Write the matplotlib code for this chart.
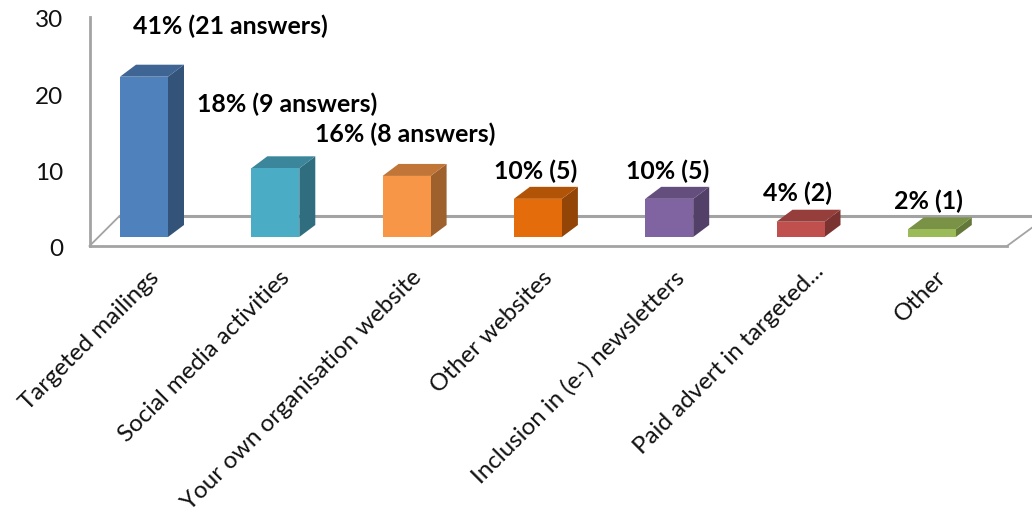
import matplotlib
matplotlib.use("Agg")
import matplotlib.pyplot as plt
from matplotlib.patches import Polygon
from matplotlib.transforms import ScaledTranslation
from matplotlib.colors import to_rgb

categories = ["Targeted mailings", "Social media activities", "Your own organisation website",
              "Other websites", "Inclusion in (e-) newsletters", "Paid advert in targeted...", "Other"]
answers = [21, 9, 8, 5, 5, 2, 1]
value_labels = ["41% (21 answers)", "18% (9 answers)", "16% (8 answers)",
                "10% (5)", "10% (5)", "4% (2)", "2% (1)"]
colors = ["#4F81BD", "#4BACC6", "#F79646", "#E46C0A", "#8064A2", "#C0504D", "#9BBB59"]
y_ticks = [0, 10, 20, 30]

# label offsets from bar top centre, in px (x right, y up)
label_dx = [86, 12, -1, -2, -2, -3, -3]
label_dy = [50, 64, 42, 28, 28, 28, 28]
# nudges of the category labels, in px
tick_dx = [4, 4, 4, 4, 4, 12, 4]
tick_dy = [-21, -21, -21, -21, -21, -14, -21]

W, H, DPI = 1032, 515, 100
plt.rcParams["font.family"] = ["Lato", "DejaVu Sans"]
fig = plt.figure(figsize=(W / DPI, H / DPI), dpi=DPI)
L, R, T, B = 89.5, 1007, 17, 246
ax = fig.add_axes([L / W, 1 - B / H, (R - L) / W, (B - T) / H])
step = 131.3
centre0 = 144
ax.set_xlim((L - centre0) / step, (R - centre0) / step)
ax.set_ylim(0, 30)
ux, uy = 1 / step, 30 / (B - T)  # data units per pixel

def px(dx, dy):
    return ScaledTranslation(dx / DPI, dy / DPI, fig.dpi_scale_trans)

GRAY = "#A3A3A3"
for s in ("top", "right"):
    ax.spines[s].set_visible(False)
for s in ("left", "bottom"):
    ax.spines[s].set_color(GRAY)
    ax.spines[s].set_linewidth(2)

# back wall base line and floor diagonals
xl0, xl1 = ax.get_xlim()
wall_y = 30 * uy
ax.plot([xl0 + 30 * ux, xl1 + 30 * ux], [wall_y, wall_y], color=GRAY, lw=2.2, clip_on=False, zorder=1)
ax.plot([xl0, xl0 + 30 * ux], [0, wall_y], color=GRAY, lw=1.3, clip_on=False, zorder=1)
ax.plot([xl1, xl1 + 30 * ux], [0, 22 * uy], color=GRAY, lw=1.3, clip_on=False, zorder=1)

bar_w = 48 * ux
dx3, dy3 = 16 * ux, 12 * uy
base = 9 * uy

def shade(c, f):
    return tuple(v * f for v in to_rgb(c))

for i, (v, c) in enumerate(zip(answers, colors)):
    x0, x1 = i - bar_w / 2, i + bar_w / 2
    y0, y1 = base, base + v
    ax.add_patch(Polygon([(x1, y0), (x1 + dx3, y0 + dy3), (x1 + dx3, y1 + dy3), (x1, y1)],
                         fc=shade(c, 0.64), ec="none", clip_on=False, zorder=3))
    ax.add_patch(Polygon([(x0, y1), (x0 + dx3, y1 + dy3), (x1 + dx3, y1 + dy3), (x1, y1)],
                         fc=shade(c, 0.78), ec="none", clip_on=False, zorder=3))
    ax.bar(i, v, width=bar_w, bottom=base, color=c, zorder=4, clip_on=False)
    ax.annotate(value_labels[i], xy=(i, y1), xytext=(label_dx[i] * 0.72, label_dy[i] * 0.72),
                textcoords="offset points", ha="center", va="center",
                fontsize=17.9, fontweight="bold", color="black", annotation_clip=False, zorder=5)

ax.set_yticks(y_ticks)
ax.tick_params(axis="y", length=0, pad=19, labelsize=17.5, labelcolor="#111111")
ax.set_xticks(range(len(categories)))
ax.set_xticklabels(categories, rotation=45, ha="right", va="top", rotation_mode="anchor",
                   fontsize=17.4, color="#111111")
ax.tick_params(axis="x", length=0, pad=0)
for t, ndx, ndy in zip(ax.get_xticklabels(), tick_dx, tick_dy):
    t.set_transform(t.get_transform() + px(ndx, ndy))
for t in ax.get_yticklabels():
    t.set_transform(t.get_transform() + px(0, -2))

fig.savefig("out.png", dpi=DPI)
